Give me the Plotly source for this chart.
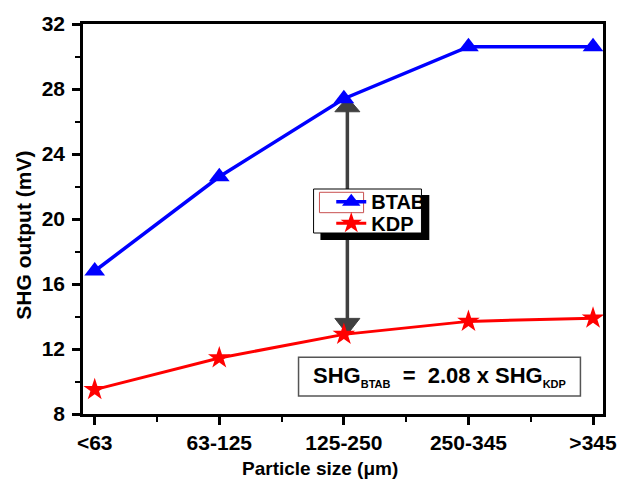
import plotly.graph_objects as go

categories = ["<63", "63-125", "125-250", "250-345", ">345"]
btab = [16.8, 22.6, 27.4, 30.6, 30.6]
kdp = [9.5, 11.45, 12.9, 13.7, 13.9]
y_ticks = [8, 12, 16, 20, 24, 28, 32]
ratio_text = "SHG<sub><span style='font-size:11px'>BTAB</span></sub>\u00a0\u00a0=\u00a0\u00a02.08 x SHG<sub><span style='font-size:11px'>KDP</span></sub>"

xi = list(range(len(categories)))
FONT = "Liberation Sans, Arial, sans-serif"
ARROW_IDX = 2

fig = go.Figure()
fig.add_trace(go.Scatter(
    x=xi, y=btab, name="BTAB", mode="lines+markers", legend="legend",
    line=dict(color="#0000ff", width=3.5),
    marker=dict(symbol="triangle-up", size=18, color="#0000ff"),
))
fig.add_trace(go.Scatter(
    x=xi, y=kdp, name="KDP", mode="lines+markers", legend="legend2",
    line=dict(color="#ff0000", width=3),
    marker=dict(symbol="star", size=17, color="#ff0000"),
))

shapes = []
# double-headed arrow between the two series at 125-250
shapes.append(dict(type="line", layer="below", xref="x", yref="y",
                   xsizemode="pixel", xanchor=ARROW_IDX, x0=3.5, x1=3.5,
                   y0=kdp[ARROW_IDX], y1=btab[ARROW_IDX],
                   line=dict(color="#404040", width=3.5)))
shapes.append(dict(type="path", layer="below", xref="x", yref="y",
                   xsizemode="pixel", xanchor=ARROW_IDX,
                   ysizemode="pixel", yanchor=btab[ARROW_IDX],
                   path="M-9,-13 L16,-13 L3.5,1.5 Z",
                   fillcolor="#404040", line=dict(color="#404040", width=1)))
shapes.append(dict(type="path", layer="below", xref="x", yref="y",
                   xsizemode="pixel", xanchor=ARROW_IDX,
                   ysizemode="pixel", yanchor=kdp[ARROW_IDX],
                   path="M-9,16 L16,16 L3.5,0 Z",
                   fillcolor="#404040", line=dict(color="#404040", width=1)))
# legend shadow + box
shapes.append(dict(type="rect", layer="above", xref="paper", yref="paper",
                   x0=0.4566, x1=0.666, y0=0.4462, y1=0.5615,
                   fillcolor="black", line=dict(width=0)))
shapes.append(dict(type="rect", layer="above", xref="paper", yref="paper",
                   x0=0.4434, x1=0.6509, y0=0.4641, y1=0.5769,
                   fillcolor="white", line=dict(color="black", width=1)))
shapes.append(dict(type="rect", layer="above", xref="paper", yref="paper",
                   x0=0.4547, x1=0.5396, y0=0.5162, y1=0.5685,
                   fillcolor="rgba(0,0,0,0)", line=dict(color="#c85050", width=1)))
# ratio box
shapes.append(dict(type="rect", layer="above", xref="paper", yref="paper",
                   x0=0.4145, x1=0.9566, y0=0.0462, y1=0.1454,
                   fillcolor="rgba(0,0,0,0)", line=dict(color="#555555", width=1.5)))

annotations = [
    dict(text=ratio_text, xref="paper", yref="paper", x=0.686, y=0.095,
         xanchor="center", yanchor="middle", showarrow=False,
         font=dict(family=FONT, size=22, color="black", weight="bold")),
    dict(text="Particle size (\u03bcm)", xref="paper", yref="paper", x=0.4566, y=-0.1385,
         xanchor="center", yanchor="middle", showarrow=False,
         font=dict(family=FONT, size=19, color="black", weight="bold")),
    dict(text="SHG output (mV)", xref="paper", yref="paper", x=-0.114, y=0.459,
         xanchor="center", yanchor="middle", showarrow=False, textangle=-90,
         font=dict(family=FONT, size=21, color="black", weight="bold")),
]

legend_common = dict(xanchor="left", yanchor="middle", bgcolor="rgba(0,0,0,0)",
                     borderwidth=0,
                     font=dict(family=FONT, size=20, color="black", weight="bold"))

fig.update_layout(
    width=629, height=480,
    margin=dict(l=83, r=16, t=24, b=66),
    paper_bgcolor="white", plot_bgcolor="white",
    shapes=shapes, annotations=annotations,
    showlegend=True,
    legend=dict(x=0.4774, y=0.5444, **legend_common),
    legend2=dict(x=0.4774, y=0.489, **legend_common),
    xaxis=dict(range=[-0.094, 4.08], tickmode="array", tickvals=xi, ticktext=categories,
               showgrid=False, zeroline=False, showline=True, linecolor="black", linewidth=2.5,
               mirror=True, ticks="outside", ticklen=8, tickwidth=2.5, tickcolor="black",
               tickfont=dict(family=FONT, size=21, color="black", weight="bold"),
               minor=dict(ticks="outside", ticklen=5, tickwidth=2, tickcolor="black",
                          tick0=0, dtick=0.5, showgrid=False)),
    yaxis=dict(range=[8, 32], tickmode="array", tickvals=y_ticks,
               showgrid=False, zeroline=False, showline=True, linecolor="black", linewidth=2.5,
               mirror=True, ticks="outside", ticklen=8, tickwidth=2.5, tickcolor="black",
               ticklabelstandoff=3,
               tickfont=dict(family=FONT, size=21, color="black", weight="bold"),
               minor=dict(ticks="outside", ticklen=5, tickwidth=2, tickcolor="black",
                          tick0=8, dtick=2, showgrid=False)),
)

fig.write_html("out.html")
